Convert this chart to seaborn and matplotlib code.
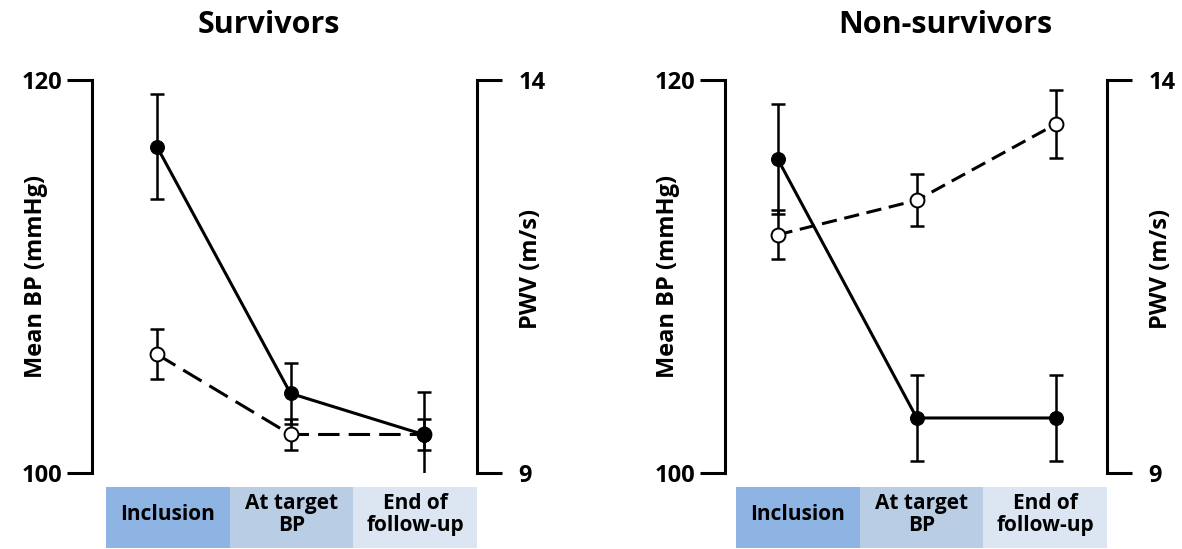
import numpy as np
import pandas as pd
import matplotlib
matplotlib.use("Agg")
import matplotlib.pyplot as plt
import seaborn as sns

# ---------------- data ----------------
timepoints = ["Inclusion", "At target\nBP", "End of\nfollow-up"]
panels = ["Survivors", "Non-survivors"]

surv_bp = [116.6, 104.05, 101.95]
surv_bp_err = [2.67, 1.55, 2.15]
surv_pwv = [10.51, 9.49, 9.49]
surv_pwv_err = [0.32, 0.20, 0.20]

non_bp = [116.0, 102.8, 102.8]
non_bp_err = [2.8, 2.2, 2.2]
non_pwv = [12.03, 12.47, 13.44]
non_pwv_err = [0.31, 0.33, 0.43]

bp_ticks = [100, 120]
pwv_ticks = [9, 14]
box_colors = ["#8EB4E3", "#B9CDE5", "#DCE6F2"]

# ---------------- style ----------------
sns.set_theme(style="white")
plt.rcParams["font.family"] = ["Open Sans", "DejaVu Sans"]
plt.rcParams["font.weight"] = "bold"
for k in ["text.color", "axes.labelcolor", "xtick.color", "ytick.color"]:
    plt.rcParams[k] = "black"

W, H = 1182, 549
fig = plt.figure(figsize=(W / 100, H / 100), dpi=100)


def fr(x0, x1, y0, y1):
    return [x0 / W, 1 - y1 / H, (x1 - x0) / W, (y1 - y0) / H]


layout = [
    dict(ax=(92, 477, 80, 473), strip=(106, 477, 487, 548), xlim=(-0.487, 2.397),
         title_x=269, ylab_l=-0.115, ylab_r=1.11, dash=(7, 3)),
    dict(ax=(725, 1107, 80, 473), strip=(736, 1107, 487, 548), xlim=(-0.377, 2.366),
         title_x=945, ylab_l=-0.118, ylab_r=1.11, dash=(5, 2.5)),
]
data = [
    (surv_bp, surv_bp_err, surv_pwv, surv_pwv_err),
    (non_bp, non_bp_err, non_pwv, non_pwv_err),
]

LW = 2.2
for name, lay, (bp, bpe, pwv, pwve) in zip(panels, layout, data):
    ax = fig.add_axes(fr(*lay["ax"]))
    ax2 = ax.twinx()
    ax.set_zorder(ax2.get_zorder() + 1)
    x = np.arange(len(timepoints))
    df = pd.DataFrame({"t": x, "bp": bp, "pwv": pwv})

    # PWV: open circles, dashed line (right axis)
    ax2.errorbar(x, pwv, yerr=pwve, fmt="none", ecolor="black", elinewidth=1.8,
                 capsize=5, capthick=1.8, zorder=2)
    sns.lineplot(data=df, x="t", y="pwv", ax=ax2, color="black", linewidth=LW,
                 linestyle=(0, lay["dash"]), marker="o", markersize=10,
                 markerfacecolor="white", markeredgecolor="black",
                 markeredgewidth=1.4, zorder=3)

    # BP: filled circles, solid line (left axis)
    sns.lineplot(data=df, x="t", y="bp", ax=ax, color="black", linewidth=LW,
                 marker="o", markersize=10, markerfacecolor="black",
                 markeredgecolor="black", zorder=3)
    ax.errorbar(x, bp, yerr=bpe, fmt="none", ecolor="black", elinewidth=1.8,
                capsize=5, capthick=1.8, zorder=2)

    for a in (ax, ax2):
        a.set_xlim(*lay["xlim"])
        a.set_xticks([])
        a.set_xlabel("")
        a.patch.set_visible(False)
        a.grid(False)
        for s in a.spines.values():
            s.set_visible(False)
            s.set_linewidth(2.2)
            s.set_color("black")
            s.set_capstyle("projecting")

    ax.set_ylim(bp_ticks[0], bp_ticks[-1])
    ax.set_yticks(bp_ticks)
    ax.spines["left"].set_visible(True)
    ax.tick_params(axis="y", left=True, right=False, length=18, width=2.2,
                   pad=3.5, labelsize=17, color="black", labelcolor="black")
    ax.set_ylabel("Mean BP (mmHg)", fontsize=17, fontweight="bold", color="black")
    ax.yaxis.set_label_coords(lay["ylab_l"], 0.5)

    ax2.set_ylim(pwv_ticks[0], pwv_ticks[-1])
    ax2.set_yticks(pwv_ticks)
    ax2.spines["right"].set_visible(True)
    ax2.tick_params(axis="y", right=True, left=False, length=18, width=2.2,
                    pad=12, labelsize=17, color="black", labelcolor="black")
    ax2.set_ylabel("PWV (m/s)", fontsize=17, fontweight="bold", color="black")
    ax2.yaxis.set_label_coords(lay["ylab_r"], 0.52)

    for lab in ax.get_yticklabels() + ax2.get_yticklabels():
        lab.set_fontweight("bold")

    # category strip
    sx = fig.add_axes(fr(*lay["strip"]))
    sx.set_xlim(0, len(timepoints))
    sx.set_ylim(0, 1)
    for i, (lab, c) in enumerate(zip(timepoints, box_colors)):
        sx.axvspan(i, i + 1, color=c, lw=0)
        sx.text(i + 0.5, 0.55, lab, ha="center", va="center", fontsize=15,
                fontweight="bold", linespacing=1.1, color="black")
    sx.axis("off")

    fig.text(lay["title_x"] / W, 1 - 25 / H, name, ha="center", va="center",
             fontsize=22, fontweight="bold", color="black")

fig.savefig("out.png", dpi=100, facecolor="white")
